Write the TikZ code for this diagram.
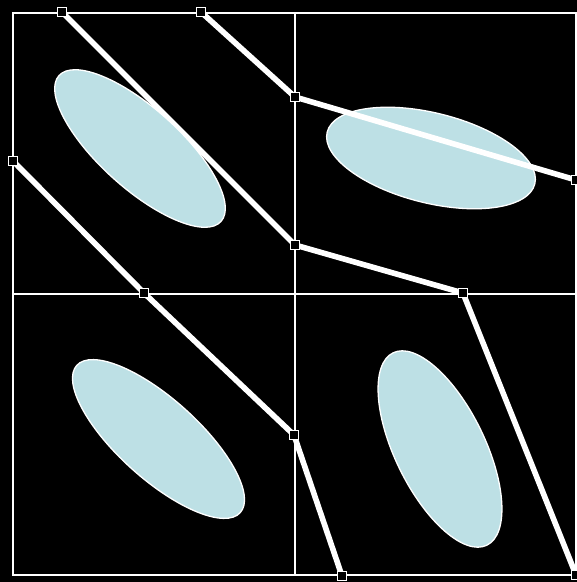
\documentclass[tikz,border=0pt]{standalone}
\begin{document}
\begin{tikzpicture}[x=1pt,y=-1pt,
  gridline/.style={draw=white,line width=1.6pt},
  blob/.style={fill=ellblue,draw=white,line width=1.3pt},
  path/.style={draw=white,line width=5.6pt,line join=miter},
  marker/.style={draw=white,fill=black,line width=1.4pt,minimum size=9pt,inner sep=0pt,rectangle}]
\definecolor{ellblue}{RGB}{189,224,229}
\fill[black] (0,0) rectangle (577,582);
\useasboundingbox (0,0) rectangle (577,582);
% grid
\draw[gridline] (13,13) rectangle (576,575);
\draw[gridline] (295,13) -- (295,575);
\draw[gridline] (13,294) -- (576,294);
% marker coordinates
\coordinate (a1) at (62,12);
\coordinate (a2) at (295,245);
\coordinate (a3) at (463,293);
\coordinate (a4) at (576,575);
\coordinate (b1) at (201,12);
\coordinate (b2) at (295,97);
\coordinate (b3) at (576,180);
\coordinate (c1) at (13,161);
\coordinate (c2) at (144,293);
\coordinate (c3) at (294,435);
\coordinate (c4) at (342,576);
% paths under ellipses
\draw[path] (a1) -- (a2) -- (a3) -- (a4);
\draw[path] (c1) -- (c2) -- (c3) -- (c4);
% ellipses
\draw[blob,rotate around={-42:(140,148.5)}] (140,148.5) ellipse [x radius=109,y radius=40];
\draw[blob,rotate around={-42:(158.5,439)}] (158.5,439) ellipse [x radius=110,y radius=40];
\draw[blob,rotate around={-14:(431,158)}] (431,158) ellipse [x radius=107,y radius=45];
\draw[blob,rotate around={-64:(440,449)}] (440,449) ellipse [x radius=107,y radius=45];
% path over ellipse
\draw[path] (b1) -- (b2) -- (b3);
% markers
\foreach \p in {a1,a2,a3,a4,b1,b2,b3,c1,c2,c3,c4}
  \node[marker] (m\p) at (\p) {};
\end{tikzpicture}
\end{document}
